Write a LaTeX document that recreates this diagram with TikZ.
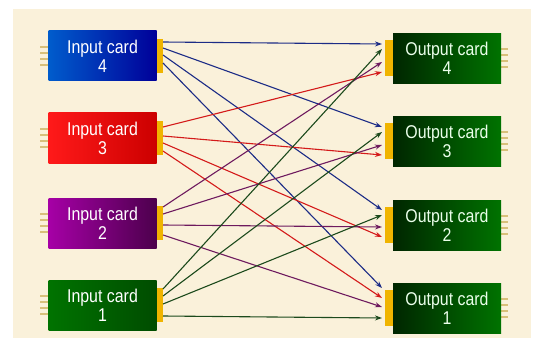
\documentclass[tikz,border=0pt]{standalone}
\usepackage{fontspec}
\setmainfont[FakeStretch=0.86]{Liberation Sans}
\usetikzlibrary{arrows.meta}
\definecolor{cream}{HTML}{FAF1DA}
\definecolor{tabamber}{HTML}{F0B400}
\definecolor{pinbuff}{HTML}{D8C07A}
\definecolor{wblue}{HTML}{1C2C86}
\definecolor{wred}{HTML}{D41A1A}
\definecolor{wpurple}{HTML}{6E1A5E}
\definecolor{wgreen}{HTML}{1C4A1C}
\tikzset{
  card/.style={minimum width=108pt,minimum height=50pt,inner sep=0pt,
    align=center,text=white,font=\fontsize{18.5}{19}\selectfont},
  outcard/.style={card,text=green!8!white,left color=green!15!black,
    right color=green!45!black},
  tab/.style={fill=tabamber,minimum height=34pt,inner sep=0pt},
  pin/.style={pinbuff,line width=1.2pt},
  wire/.style={line width=1.1pt,-{Stealth[length=7pt,width=5pt]}}
}
\begin{document}
\begin{tikzpicture}[x=1pt,y=-1pt]
  \useasboundingbox (0,0) rectangle (540,342);
  \fill[cream] (13,9) rectangle (531,338);

  % pins
  \foreach \c in {56,138,223,305}
    \foreach \d in {-9,-3,3,9}
      \draw[pin] (40,\c+\d) -- (48,\c+\d);
  \foreach \c in {58,141,225,308}
    \foreach \d in {-9,-3,3,9}
      \draw[pin] (501,\c+\d) -- (508,\c+\d);

  % input cards
  \node[card,left color=blue!55!cyan!80!black,right color=blue!60!black] (in4) at (102.5,56) {Input card\\4};
  \node[card,left color=red!90!white,right color=red!80!black] (in3) at (102.5,138) {Input card\\3};
  \node[card,left color=violet!70!magenta,right color=violet!60!black] (in2) at (102.5,223) {Input card\\2};
  \node[card,left color=green!45!black,right color=green!30!black] (in1) at (102.5,305) {Input card\\1};
  \node[tab,minimum width=6pt,anchor=west] (tin4) at (in4.east) {};
  \node[tab,minimum width=6pt,anchor=west] (tin3) at (in3.east) {};
  \node[tab,minimum width=6pt,anchor=west] (tin2) at (in2.east) {};
  \node[tab,minimum width=6pt,anchor=west] (tin1) at (in1.east) {};

  % output cards
  \node[outcard] (out4) at (447,58.5) {Output card\\4};
  \node[outcard] (out3) at (447,141) {Output card\\3};
  \node[outcard] (out2) at (447,225) {Output card\\2};
  \node[outcard] (out1) at (447,308) {Output card\\1};
  \node[tab,minimum width=8pt,minimum height=36pt,anchor=east] (tout4) at (out4.west) {};
  \node[tab,minimum width=8pt,minimum height=36pt,anchor=east] (tout3) at (out3.west) {};
  \node[tab,minimum width=8pt,minimum height=36pt,anchor=east] (tout2) at (out2.west) {};
  \node[tab,minimum width=8pt,minimum height=36pt,anchor=east] (tout1) at (out1.west) {};

  % wire ends on the tabs
  \coordinate (s44) at (163,42);  \coordinate (s43) at (163,48);
  \coordinate (s42) at (163,55);  \coordinate (s41) at (163,63);
  \coordinate (s34) at (163,127); \coordinate (s33) at (163,136);
  \coordinate (s32) at (163,143); \coordinate (s31) at (163,151);
  \coordinate (s24) at (163,207); \coordinate (s23) at (163,214);
  \coordinate (s22) at (163,225); \coordinate (s21) at (163,235);
  \coordinate (s14) at (163,289); \coordinate (s13) at (163,296);
  \coordinate (s12) at (163,304); \coordinate (s11) at (163,316);

  \coordinate (e44) at (382,44);  \coordinate (e14) at (382,49);
  \coordinate (e24) at (382,62);  \coordinate (e34) at (382,72);
  \coordinate (e43) at (382,127); \coordinate (e13) at (382,132);
  \coordinate (e23) at (382,145); \coordinate (e33) at (382,155);
  \coordinate (e42) at (382,210); \coordinate (e12) at (382,215);
  \coordinate (e22) at (382,227); \coordinate (e32) at (382,237);
  \coordinate (e41) at (382,288); \coordinate (e31) at (382,298);
  \coordinate (e21) at (382,307); \coordinate (e11) at (382,318);

  % wires
  \draw[wire,wblue] (s44) -- (e44);
  \draw[wire,wblue] (s43) -- (e43);
  \draw[wire,wblue] (s42) -- (e42);
  \draw[wire,wblue] (s41) -- (e41);
  \draw[wire,wred] (s34) -- (e34);
  \draw[wire,wred] (s33) -- (e33);
  \draw[wire,wred] (s32) -- (e32);
  \draw[wire,wred] (s31) -- (e31);
  \draw[wire,wpurple] (s24) -- (e24);
  \draw[wire,wpurple] (s23) -- (e23);
  \draw[wire,wpurple] (s22) -- (e22);
  \draw[wire,wpurple] (s21) -- (e21);
  \draw[wire,wgreen] (s14) -- (e14);
  \draw[wire,wgreen] (s13) -- (e13);
  \draw[wire,wgreen] (s12) -- (e12);
  \draw[wire,wgreen] (s11) -- (e11);
\end{tikzpicture}
\end{document}
